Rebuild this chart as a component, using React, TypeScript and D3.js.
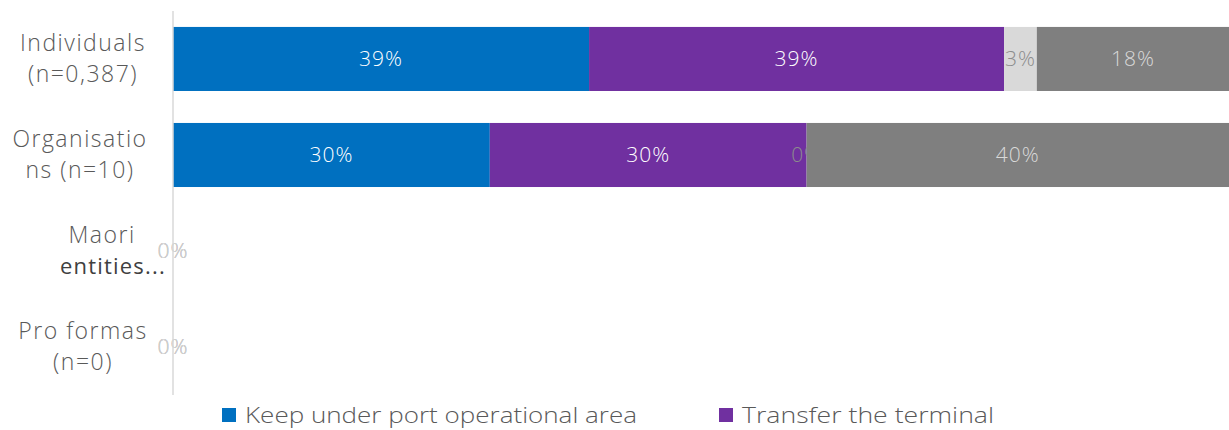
import * as d3 from "d3";

const categories = ["Individuals (n=0,387)", "Organisations (n=10)", "Maori entities...", "Pro formas (n=0)"];
const categoryLines = [
  ["Individuals", "(n=0,387)"],
  ["Organisatio", "ns (n=10)"],
  ["Maori", "entities..."],
  ["Pro formas", "(n=0)"],
];
const seriesNames = ["Keep under port operational area", "Transfer the terminal", "Other", "Don't know"];
const keepValues = [39.4, 30, 0, 0];
const transferValues = [39.3, 30, 0, 0];
const otherValues = [3.1, 0, 0, 0];
const unsureValues = [18.2, 40, 0, 0];
const labelValues = [
  ["39%", "39%", "3%", "18%"],
  ["30%", "30%", "0%", "40%"],
  ["0%", "0%", "0%", "0%"],
  ["0%", "0%", "0%", "0%"],
];
const legendShown = [0, 1];

const colors = ["#0070c0", "#7030a0", "#d9d9d9", "#7f7f7f"];
const labelColors = ["#ffffff", "#ffffff", "#8c8c8c", "#d9d9d9"];

const W = 1229;
const H = 430;
const left = 173;
const right = 1229;
const top = 11;
const bottom = 395;
const FONT = "'Open Sans', sans-serif";

export default function App() {
  const allSeries = [keepValues, transferValues, otherValues, unsureValues];
  const rows = categories.map((c, i) => {
    const r: any = { cat: c };
    allSeries.forEach((s, k) => (r["s" + k] = s[i]));
    return r;
  });
  const stack = d3.stack<any>().keys(["s0", "s1", "s2", "s3"]);
  const stacked = stack(rows);

  const x = d3.scaleLinear().domain([0, 100]).range([left, right]);
  const y = d3.scaleBand<string>().domain(categories).range([top, bottom]).paddingInner(0.333).paddingOuter(0.166);

  const labelCenters = [83, 80, 0, 83];

  return (
    <svg width={W} height={H} style={{ position: "absolute", left: 0, top: 0 }} fontFamily={FONT}>
      {stacked.map((layer, k) => (
        <g key={k}>
          {layer.map((d, i) => {
            const yy = y(categories[i])!;
            const x0 = x(d[0]);
            const x1 = x(d[1]);
            return (
              <g key={i}>
                <rect x={x0} y={yy} width={Math.max(0, x1 - x0)} height={y.bandwidth()} fill={colors[k]} />
                <text
                  x={(x0 + x1) / 2}
                  y={yy + y.bandwidth() / 2}
                  dy="0.35em"
                  textAnchor="middle"
                  fontSize={21}
                  fontWeight={300}
                  letterSpacing={1}
                  fill={labelColors[k]}
                >
                  {labelValues[i][k]}
                </text>
              </g>
            );
          })}
        </g>
      ))}
      <line x1={left} x2={left} y1={top} y2={bottom} stroke="#d9d9d9" strokeWidth={1.5} />
      {categoryLines.map((lines, i) => {
        const cy = y(categories[i])! + y.bandwidth() / 2;
        if (i === 2) {
          return (
            <g key={i}>
              <text x={102} y={cy - 8} textAnchor="middle" fontSize={23} fontWeight={300} letterSpacing={1.5} fill="#595959">
                {lines[0]}
              </text>
              <text x={113} y={cy + 23} textAnchor="middle" fontSize={22} letterSpacing={1.2} fill="#404040">
                {lines[1]}
              </text>
            </g>
          );
        }
        return (
          <g key={i}>
            {lines.map((t, j) => (
              <text key={j} x={labelCenters[i]} y={cy - 8 + j * 31} textAnchor="middle" fontSize={23} fontWeight={300} letterSpacing={1.5} fill="#595959">
                {t}
              </text>
            ))}
          </g>
        );
      })}
      {legendShown.map((k, j) => {
        const lx = [222, 719][j];
        return (
          <g key={k}>
            <rect x={lx} y={408} width={14} height={14} fill={colors[k]} />
            <text x={lx + 23} y={415} dy="0.35em" fontSize={22} fontWeight={300} fill="#595959" textLength={k === 0 ? 392 : 252} lengthAdjust="spacingAndGlyphs">
              {seriesNames[k]}
            </text>
          </g>
        );
      })}
    </svg>
  );
}
